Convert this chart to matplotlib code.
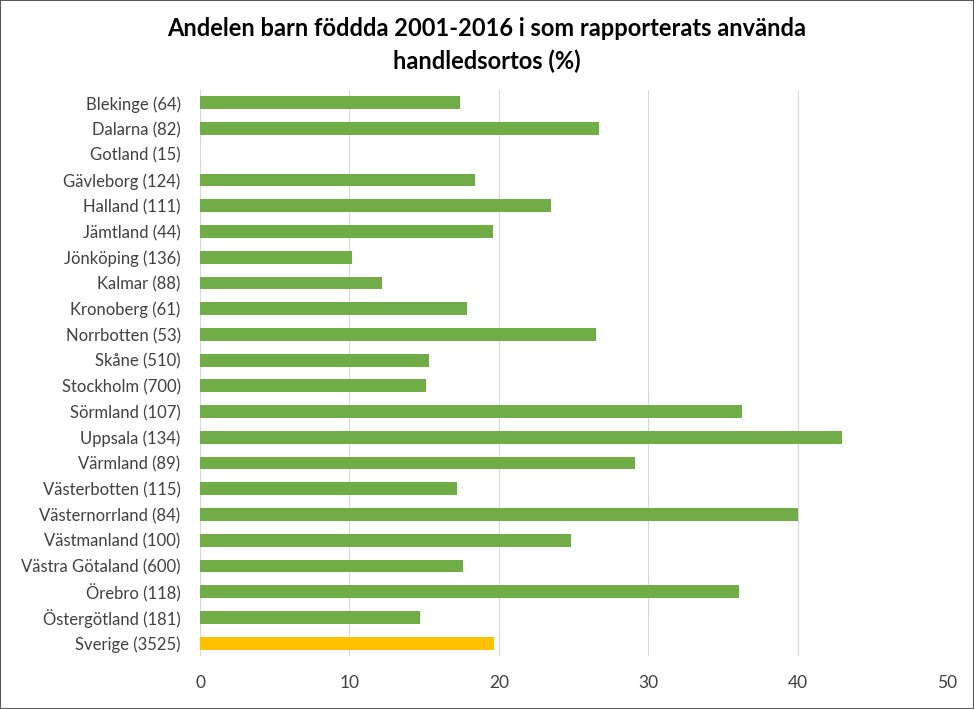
import matplotlib
matplotlib.use("Agg")
import matplotlib.pyplot as plt
from matplotlib.patches import Rectangle

categories = ["Blekinge (64)", "Dalarna (82)", "Gotland (15)", "Gävleborg (124)",
              "Halland (111)", "Jämtland (44)", "Jönköping (136)", "Kalmar (88)",
              "Kronoberg (61)", "Norrbotten (53)", "Skåne (510)", "Stockholm (700)",
              "Sörmland (107)", "Uppsala (134)", "Värmland (89)", "Västerbotten (115)",
              "Västernorrland (84)", "Västmanland (100)", "Västra Götaland (600)",
              "Örebro (118)", "Östergötland (181)", "Sverige (3525)"]
values = [17.4, 26.7, 0.0, 18.4, 23.5, 19.6, 10.2, 12.2, 17.9, 26.5, 15.3, 15.1,
          36.3, 43.0, 29.1, 17.2, 40.0, 24.8, 17.6, 36.1, 14.7, 19.7]
xticks = [0, 10, 20, 30, 40, 50]
title = "Andelen barn föddda 2001-2016 i som rapporterats använda\nhandledsortos (%)"

green = "#70AD47"
yellow = "#FFC000"
colors = [green] * (len(values) - 1) + [yellow]

fig = plt.figure(figsize=(9.74, 7.09), dpi=100)
ax = fig.add_axes([200/974, 1 - 656/709, 747/974, 566/709])

ypos = list(range(len(categories)))
ax.barh(ypos, values, height=0.5, color=colors, zorder=3)
ax.set_ylim(len(categories) - 0.5, -0.5)
ax.set_xlim(0, 50)
ax.set_xticks(xticks)
ax.set_yticks(ypos)
ax.set_yticklabels(categories, fontsize=12, family=["Lato", "DejaVu Sans"], color="#404040")
ax.set_xticklabels([str(t) for t in xticks], fontsize=12.5, family=["Lato", "DejaVu Sans"], color="#404040")
ax.tick_params(axis="both", length=0)
ax.tick_params(axis="y", pad=14)
ax.tick_params(axis="x", pad=14)
ax.grid(axis="x", color="#D9D9D9", linewidth=0.8, zorder=0)
for s in ax.spines.values():
    s.set_visible(False)

fig.text(0.5, 1 - 45/709, title, ha="center", va="center", fontsize=17, fontweight="bold",
         family=["Lato", "DejaVu Sans"], linespacing=1.5)

fig.patches.append(Rectangle((0, 0), 1, 1, transform=fig.transFigure, fill=False,
                             edgecolor="#595959", linewidth=1.5))

fig.savefig("out.png", dpi=100)
